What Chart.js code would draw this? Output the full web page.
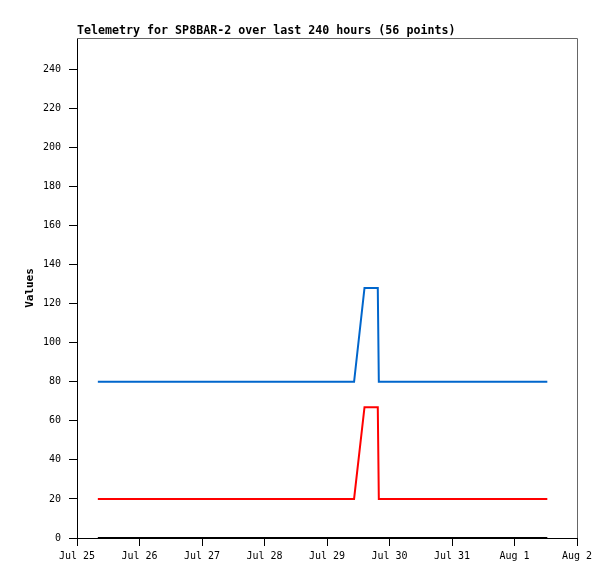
<!DOCTYPE html>
<html lang="en">
<head>
  <meta charset="UTF-8">
  <title>Telemetry for SP8BAR-2</title>
  <script src="https://cdn.jsdelivr.net/npm/chart.js"></script>
  <style>
    body {
      margin: 0;
      padding: 0;
      background: white;
    }
    canvas {
      display: block;
    }
  </style>
</head>
<body>
  <canvas id="myChart" width="615" height="579"></canvas>

  <script>
    // hours since Jul 25 00:00
    const hours = [8.0, 106.4, 110.4, 115.5, 115.9, 180.6];
    const blueValues = [80, 80, 128, 128, 80, 80];
    const redValues = [20, 20, 67, 67, 20, 20];
    const blackValues = [0, 0, 0, 0, 0, 0];
    const tickLabels = ['Jul 25', 'Jul 26', 'Jul 27', 'Jul 28', 'Jul 29', 'Jul 30', 'Jul 31', 'Aug 1', 'Aug 2'];
    const yTicks = [0, 20, 40, 60, 80, 100, 120, 140, 160, 180, 200, 220, 240];

    const toPoints = values => values.map((v, i) => ({ x: hours[i], y: v }));

    const mono = 'DejaVu Sans Mono, monospace';

    // grey top and right frame of the plot area
    const frame = {
      id: 'frame',
      afterDraw(chart) {
        const { ctx, chartArea: a } = chart;
        ctx.save();
        ctx.strokeStyle = '#666666';
        ctx.lineWidth = 1;
        ctx.beginPath();
        ctx.moveTo(a.left, a.top + 0.5);
        ctx.lineTo(a.right + 0.5, a.top + 0.5);
        ctx.lineTo(a.right + 0.5, a.bottom);
        ctx.stroke();
        ctx.restore();
      }
    };

    const ctx = document.getElementById('myChart').getContext('2d');

    const chart = new Chart(ctx, {
      type: 'line',
      data: {
        datasets: [
          { data: toPoints(blackValues), borderColor: '#000000', borderWidth: 2 },
          { data: toPoints(redValues), borderColor: '#ff0000', borderWidth: 2 },
          { data: toPoints(blueValues), borderColor: '#0066cc', borderWidth: 2 }
        ]
      },
      options: {
        responsive: false,
        animation: false,
        devicePixelRatio: 1,
        layout: { padding: { left: 0, right: 38, top: 0, bottom: 0 } },
        elements: {
          point: { radius: 0 },
          line: { tension: 0 }
        },
        plugins: {
          legend: { display: false },
          tooltip: { enabled: false },
          title: {
            display: true,
            text: 'Telemetry for SP8BAR-2 over last 240 hours (56 points)',
            align: 'start',
            fullSize: false,
            color: '#000000',
            font: { family: mono, size: 11.65, weight: 'bold', lineHeight: 1 },
            padding: { top: 25, bottom: 1.35 }
          }
        },
        scales: {
          x: {
            type: 'linear',
            min: 0,
            max: 192,
            grid: { drawOnChartArea: false, drawTicks: true, tickLength: 8, color: '#000000' },
            border: { display: true, color: '#000000' },
            ticks: {
              stepSize: 24,
              autoSkip: false,
              maxRotation: 0,
              padding: 4,
              color: '#000000',
              font: { family: mono, size: 10 },
              callback: (value, index) => tickLabels[index]
            },
            afterFit: scale => { scale.height = 41; }
          },
          y: {
            min: 0,
            max: 256,
            grid: { drawOnChartArea: false, drawTicks: true, tickLength: 8, color: '#000000' },
            border: { display: true, color: '#000000' },
            ticks: {
              stepSize: 20,
              padding: 8,
              color: '#000000',
              font: { family: mono, size: 10 }
            },
            afterBuildTicks: scale => {
              scale.ticks = yTicks.map(v => ({ value: v }));
            },
            title: {
              display: true,
              text: 'Values',
              color: '#000000',
              font: { family: mono, size: 11, weight: 'bold' },
              padding: { top: 24, bottom: 0 }
            },
            afterFit: scale => { scale.width = 77; }
          }
        }
      },
      plugins: [frame]
    });
  </script>
</body>
</html>
